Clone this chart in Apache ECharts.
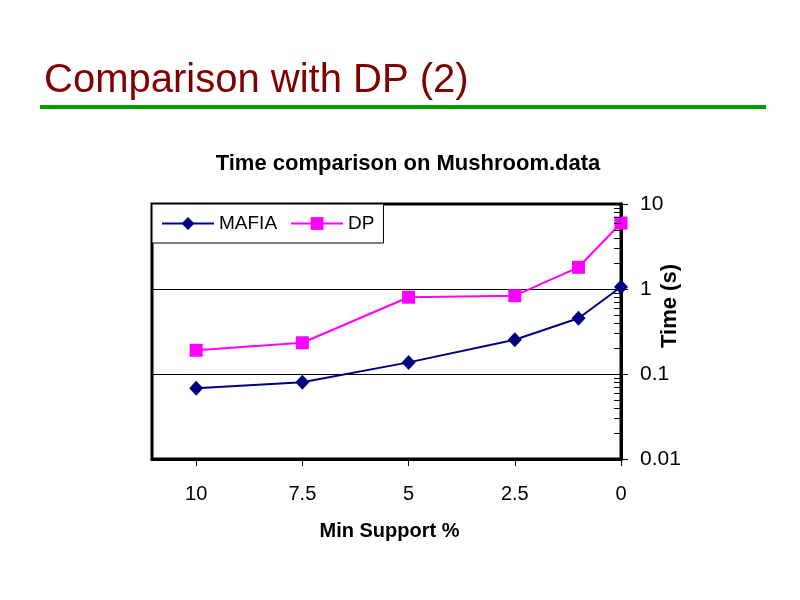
<!DOCTYPE html>
<html>
<head>
<meta charset="utf-8">
<script src="https://cdn.jsdelivr.net/npm/echarts@6/dist/echarts.min.js"></script>
<style>html,body{margin:0;padding:0;background:#fff;}#c{width:800px;height:600px;}</style>
</head>
<body>
<div id="c"></div>
<script>
const minSupport = [10, 7.5, 5, 2.5, 1, 0];
const mafiaTime = [0.068, 0.080, 0.137, 0.253, 0.452, 1.055];
const dpTime = [0.190, 0.233, 0.80, 0.835, 1.80, 5.97];
const xTickLabels = [10, 7.5, 5, 2.5, 0];
const yTickLabels = [0.01, 0.1, 1, 10];

const FONT = '"Liberation Sans", Arial, sans-serif';
const chart = echarts.init(document.getElementById('c'), null, {renderer: 'canvas'});

const option = {
  animation: false,
  backgroundColor: '#fff',
  title: {
    text: 'Time comparison on Mushroom.data',
    left: 403, top: 148, textAlign: 'center',
    textStyle: {fontFamily: FONT, fontSize: 22, fontWeight: 'bold', color: '#000'}
  },
  legend: {
    left: 152, top: 204,
    orient: 'horizontal',
    backgroundColor: '#fff', borderColor: '#000', borderWidth: 1,
    padding: [10, 9, 10, 9],
    itemWidth: 52, itemHeight: 16, itemGap: 13,
    textStyle: {fontFamily: FONT, fontSize: 19, color: '#000'},
    data: ['MAFIA', 'DP']
  },
  grid: {left: 152, right: 179, top: 204, bottom: 141, show: true, borderColor: '#000', borderWidth: 3, backgroundColor: 'transparent'},
  xAxis: {
    type: 'value', inverse: true, min: 0, max: 11.04, interval: 2.5,
    name: 'Min Support %', nameLocation: 'middle', nameGap: 62,
    nameTextStyle: {fontFamily: FONT, fontSize: 20, fontWeight: 'bold', color: '#000', padding: [0, 0, 0, 6]},
    axisLine: {show: true, onZero: false, lineStyle: {color: '#000', width: 3}},
    axisTick: {show: true, inside: false, length: 7, lineStyle: {color: '#000', width: 1}},
    axisLabel: {
      margin: 25, fontFamily: FONT, fontSize: 20, color: '#000', showMaxLabel: false,
      formatter: function (v) { return xTickLabels.indexOf(v) >= 0 ? String(v) : ''; }
    },
    splitLine: {show: false}
  },
  yAxis: {
    type: 'log', logBase: 10, min: 0.01, max: 10, position: 'right',
    axisLine: {show: true, lineStyle: {color: '#000', width: 3}},
    axisTick: {show: true, inside: false, length: 7, lineStyle: {color: '#000', width: 1}},
    axisLabel: {
      margin: 19, fontFamily: FONT, fontSize: 21, color: '#000',
      formatter: function (v) {
        for (const t of yTickLabels) { if (Math.abs(Math.log10(v) - Math.log10(t)) < 1e-6) return String(t); }
        return '';
      }
    },
    splitLine: {show: true, lineStyle: {color: '#000', width: 1}},
    minorTick: {show: false}
  },
  series: [
    {
      name: 'MAFIA', type: 'line',
      data: minSupport.map((x, i) => [x, mafiaTime[i]]),
      symbol: 'diamond', symbolSize: [14, 15],
      lineStyle: {color: '#000080', width: 2},
      itemStyle: {color: '#000080'},
      z: 3
    },
    {
      name: 'DP', type: 'line',
      data: minSupport.map((x, i) => [x, dpTime[i]]),
      symbol: 'rect', symbolSize: 13,
      lineStyle: {color: '#FF00FF', width: 2},
      itemStyle: {color: '#FF00FF'},
      z: 2
    }
  ],
  graphic: []
};
chart.setOption(option);

const g = [
  {type: 'text', left: 44, top: 61, style: {text: 'Comparison with DP (2)', font: '40px ' + FONT, fill: '#800000'}},
  {type: 'rect', shape: {x: 40, y: 105, width: 726, height: 4}, style: {fill: '#009900'}},
  {type: 'text', x: 670, y: 306, rotation: Math.PI / 2,
   style: {text: 'Time (s)', font: 'bold 22px ' + FONT, fill: '#000', align: 'center', verticalAlign: 'middle'}}
];
const axisX = chart.convertToPixel({xAxisIndex: 0}, 0);
for (let d = -2; d <= 0; d++) {
  for (let k = 2; k <= 9; k++) {
    const v = k * Math.pow(10, d);
    const py = Math.round(chart.convertToPixel({yAxisIndex: 0}, v)) + 0.5;
    g.push({type: 'line', shape: {x1: axisX - 7, y1: py, x2: axisX, y2: py}, style: {stroke: '#000', lineWidth: 1}, z: 10});
  }
}
chart.setOption({graphic: g});
</script>
</body>
</html>
